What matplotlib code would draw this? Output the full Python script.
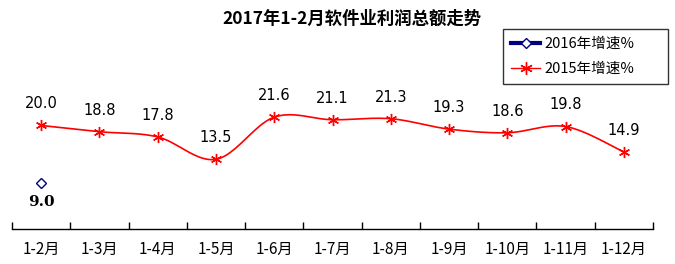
import matplotlib.pyplot as plt
from matplotlib.lines import Line2D
from matplotlib.ticker import FixedLocator, NullFormatter
import numpy as np

plt.rcParams['font.family'] = ['Noto Sans CJK SC', 'DejaVu Sans']

months = ['1-2月', '1-3月', '1-4月', '1-5月', '1-6月', '1-7月',
          '1-8月', '1-9月', '1-10月', '1-11月', '1-12月']
growth_2015 = [20.0, 18.8, 17.8, 13.5, 21.6, 21.1, 21.3, 19.3, 18.6, 19.8, 14.9]
growth_2016 = [9.0]

RED = '#ff0000'
NAVY = '#000080'


def smooth_curve(xs, ys, n=25):
    # Excel-style smoothed line (cubic bezier through the points)
    pts = np.column_stack([xs, ys]).astype(float)
    out = [pts[0]]
    for i in range(len(pts) - 1):
        p0 = pts[max(i - 1, 0)]
        p1 = pts[i]
        p2 = pts[i + 1]
        p3 = pts[min(i + 2, len(pts) - 1)]
        c1 = p1 + (p2 - p0) / 6
        c2 = p2 - (p3 - p1) / 6
        t = np.linspace(0, 1, n)[1:, None]
        seg = (1 - t) ** 3 * p1 + 3 * (1 - t) ** 2 * t * c1 + 3 * (1 - t) * t ** 2 * c2 + t ** 3 * p2
        out.extend(seg)
    return np.array(out)


fig = plt.figure(figsize=(6.75, 2.64), dpi=100)
ax = fig.add_axes([0.0178, 0.1307, 0.9496, 0.591])

x15 = np.arange(len(growth_2015))
curve = smooth_curve(x15, growth_2015)
ax.plot(curve[:, 0], curve[:, 1], color=RED, linewidth=1.2, zorder=2)
ax.plot(x15, growth_2015, linestyle='none', marker=(6, 2, 0), markersize=8,
        markeredgecolor=RED, markeredgewidth=1.0, zorder=3)

x16 = np.arange(len(growth_2016))
ax.plot(x16, growth_2016, linestyle='none', marker='D', markersize=5,
        markerfacecolor='white', markeredgecolor=NAVY, markeredgewidth=1.0, zorder=3)

for x, v in zip(x15, growth_2015):
    ax.annotate(f'{v:.1f}', (x, v), xytext=(0, 15.5), textcoords='offset points',
                ha='center', va='center', fontsize=10.5, family='DejaVu Sans')
for x, v in zip(x16, growth_2016):
    ax.annotate(f'{v:.1f}', (x, v), xytext=(0, -14), textcoords='offset points',
                ha='center', va='center', fontsize=11, fontweight='bold', family='DejaVu Serif')

ax.set_xlim(-0.5, len(months) - 0.5)
ax.set_ylim(0, 30)

ax.xaxis.set_major_locator(FixedLocator(np.arange(len(months) + 1) - 0.5))
ax.xaxis.set_major_formatter(NullFormatter())
ax.xaxis.set_minor_locator(FixedLocator(np.arange(len(months))))
ax.set_xticklabels(months, minor=True)
ax.tick_params(axis='x', which='major', direction='in', length=5, width=1, color='black')
ax.tick_params(axis='x', which='minor', length=0, pad=8, labelsize=11)
ax.set_yticks([])

for side in ['left', 'top', 'right']:
    ax.spines[side].set_visible(False)
ax.spines['bottom'].set_linewidth(1.0)

fig.text(0.522, 0.93, '2017年1-2月软件业利润总额走势', ha='center', va='center',
         fontsize=12.5, fontweight='bold')

handles = [
    Line2D([], [], color=NAVY, linewidth=3, marker='D', markersize=5,
           markerfacecolor='white', markeredgecolor=NAVY),
    Line2D([], [], color=RED, linewidth=1.0, marker=(6, 2, 0), markersize=9,
           markeredgecolor=RED),
]
leg = fig.legend(handles, ['2016年增速%', '2015年增速%'], loc='upper left',
                 bbox_to_anchor=(503 / 675, (264 - 85) / 264, 165 / 675, 56 / 264),
                 mode='expand', frameon=True, fancybox=False,
                 edgecolor='black', fontsize=10.5, handlelength=2.0,
                 borderpad=0.55, labelspacing=0.75, handletextpad=0.3,
                 borderaxespad=0)
leg.get_frame().set_linewidth(1.0)

fig.savefig('out.png', dpi=100)
